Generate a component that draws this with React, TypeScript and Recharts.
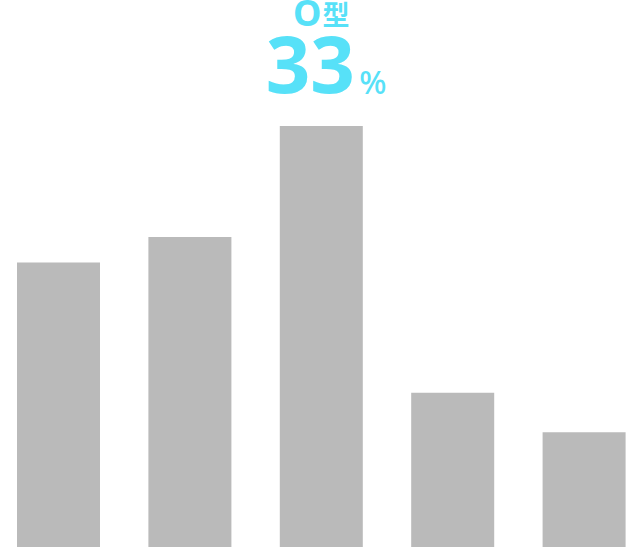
import React from "react";
import { BarChart, Bar, XAxis, YAxis, LabelList, Cell } from "recharts";

const categories = ["A型", "B型", "O型", "AB型", "その他"];
const values = [22.3, 24.3, 33, 12.1, 9.0];
const highlightIndex = 2;
const unitLabel = "%";

const data = categories.map((name, i) => ({ name, value: values[i] }));

const CYAN = "#57E1F8";
const GRAY = "#BABABA";

const HighlightLabel = (props: any) => {
  const { x, y, width, index, value } = props;
  if (index !== highlightIndex) return null;
  const cx = x + width / 2;
  const name = categories[index];
  return (
    <g>
      <text
        x={cx}
        y={y - 100}
        textAnchor="middle"
        fill={CYAN}
        fontWeight={700}
      >
        <tspan fontSize={36} fontFamily="'Noto Sans', sans-serif">{name.slice(0, 1)}</tspan>
        <tspan fontSize={27} dx={1} dy={-1} fontFamily="'Noto Sans CJK JP', sans-serif">{name.slice(1)}</tspan>
      </text>
      <text
        x={cx - 11}
        y={y - 33}
        textAnchor="middle"
        fill={CYAN}
        fontSize={78}
        fontWeight={700}
        fontFamily="'Noto Sans', sans-serif"
      >
        {Math.round(value)}
      </text>
      <text
        x={cx + 38}
        y={y - 32}
        textAnchor="start"
        fill={CYAN}
        fontSize={32}
        fontWeight={500}
        fontFamily="'Noto Sans', sans-serif"
      >
        {unitLabel}
      </text>
    </g>
  );
};

export default function App() {
  return (
    <div style={{ position: "absolute", left: 0, top: 0, width: 626, height: 547, overflow: "hidden", background: "#fff" }}>
      <BarChart
        width={626}
        height={547}
        data={data}
        margin={{ top: 126, right: -24, bottom: 0, left: -7 }}
        barSize={83}
      >
        <XAxis dataKey="name" hide />
        <YAxis hide domain={[0, 33]} />
        <Bar dataKey="value" fill={GRAY} isAnimationActive={false}>
          {data.map((d) => (
            <Cell key={d.name} fill={GRAY} />
          ))}
          <LabelList dataKey="value" content={HighlightLabel} />
        </Bar>
      </BarChart>
    </div>
  );
}
